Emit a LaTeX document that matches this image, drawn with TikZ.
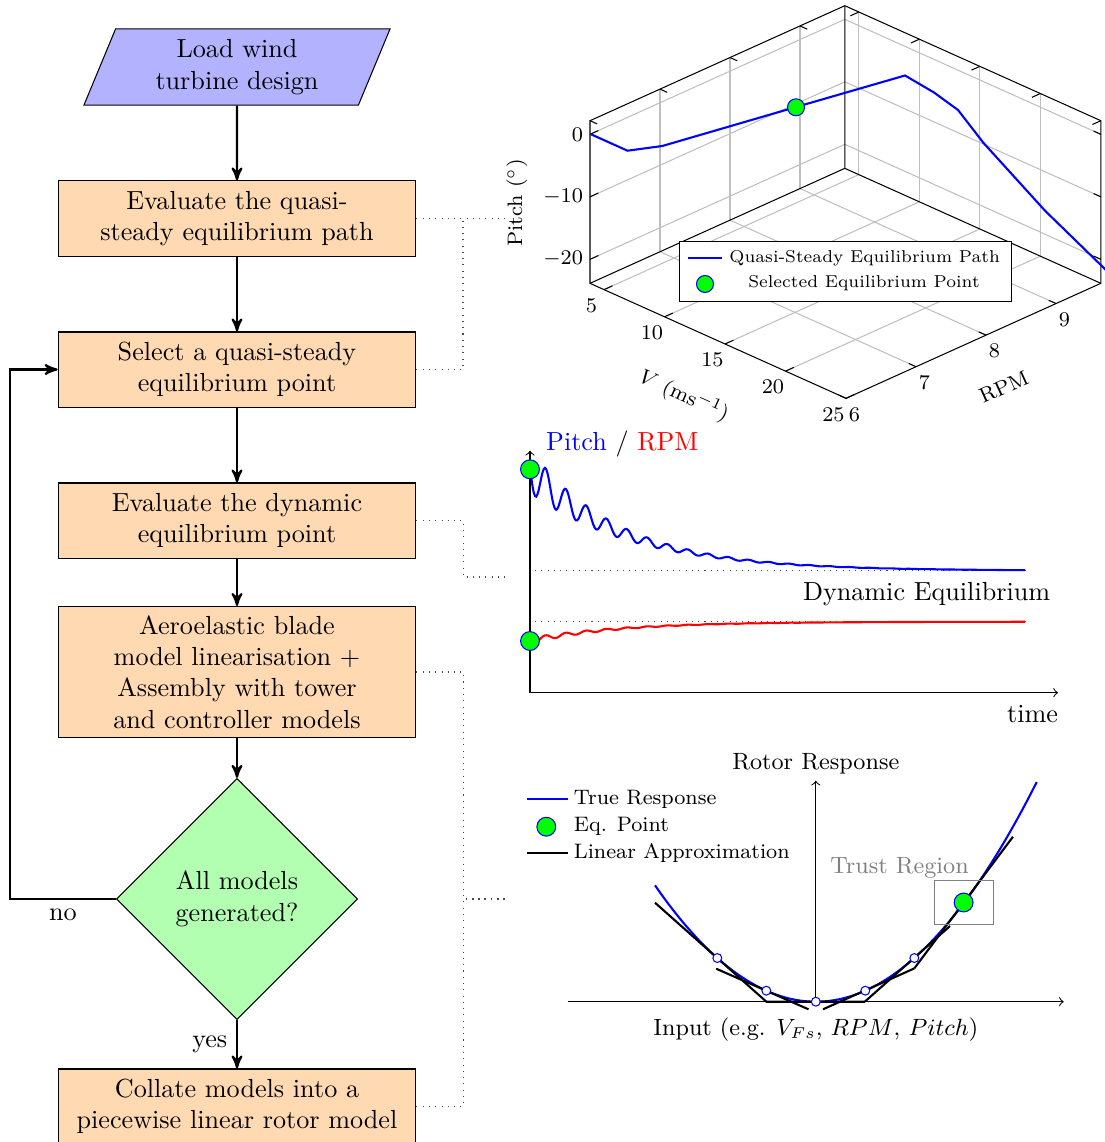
\documentclass[tikz,border=0pt]{standalone}
\usepackage{tikz}
\usetikzlibrary{shapes,arrows,positioning,calc}

\begin{document}
\begin{tikzpicture}[
    x=0.3824pt, y=-0.3824pt,
    process/.style={rectangle, draw, fill=orange!30, text width=132pt, align=center, inner sep=2.4pt, minimum height=28.7pt},
    io/.style={trapezium, trapezium left angle=70, trapezium right angle=110, trapezium stretches=true, draw, fill=blue!30, align=center, minimum width=117.4pt, minimum height=29.1pt, inner sep=1pt},
    decision/.style={diamond, draw, fill=green!30, align=center, minimum width=92.2pt, minimum height=92.2pt, inner sep=0pt, aspect=1},
    arrow/.style={->,>=stealth',thick},
    link/.style={dotted, black!70},
    eqpt/.style={circle, draw=blue, fill=green, inner sep=0pt, minimum size=7.2pt},
    linpt/.style={circle, draw=blue, fill=white, inner sep=0pt, minimum size=3.4pt},
    grid3d/.style={black!25, thin},
    legtext/.style={font=\scriptsize, inner sep=0pt, scale=0.94}
]
\useasboundingbox (0,0) rectangle (1105,1142);

% Flowchart
\node[io] (load) at (237,67) {Load wind\\turbine design};
\node[process] (evalqs) at (237,218.5) {Evaluate the quasi-\\steady equilibrium path};
\node[process] (select) at (237,369.5) {Select a quasi-steady\\equilibrium point};
\node[process] (evaldyn) at (237,520.5) {Evaluate the dynamic\\equilibrium point};
\node[process, minimum height=50.1pt] (linear) at (237,672) {Aeroelastic blade\\model linearisation +\\Assembly with tower\\and controller models};
\node[decision] (check) at (237,899) {All models\\generated?};
\node[process] (collate) at (237,1106.5) {Collate models into a\\piecewise linear rotor model};

% Arrows
\foreach \i/\j in {load/evalqs, evalqs/select, select/evaldyn, evaldyn/linear, linear/check} {
    \draw[arrow] (\i) -- (\j);
}
\draw[arrow] (check) -- node[left] {yes} (collate);
\coordinate (loopcorner) at (10,899);
\draw[arrow] (check.west) -- node[below] {no} (loopcorner) |- (select.west);

% Dotted links to the plots
\coordinate (qsjoin) at (463,218.5);
\coordinate (toqs) at (508,218.5);
\coordinate (todyn) at (508,577);
\coordinate (tolin) at (508,899);
\draw[link] (evalqs.east) -- (toqs);
\draw[link] (select.east) -| (qsjoin);
\draw[link] (evaldyn.east) -- ++(47,0) |- (todyn);
\draw[link] (linear.east) -- ++(47,0) |- (tolin);
\draw[link] (collate.east) -- ++(47,0) |- (tolin);

% Quasi-steady equilibrium path (3D view)
\begin{scope}[shift={(123.5,303)}, x={(4.627pt,-2.078pt)}, y={(26.77pt,12.08pt)}, z={(0pt,2.39pt)}]
  \foreach \r in {7,8,9} {
    \draw[grid3d] (3.84,\r,-23.84) -- (3.84,\r,2.18);
    \draw[grid3d] (3.84,\r,-23.84) -- (25,\r,-23.84);
  }
  \foreach \v in {5,10,15,20} {
    \draw[grid3d] (\v,9.64,-23.84) -- (\v,9.64,2.18);
    \draw[grid3d] (\v,6,-23.84) -- (\v,9.64,-23.84);
  }
  \foreach \p in {0,-10,-20} {
    \draw[grid3d] (3.84,6,\p) -- (3.84,9.64,\p) -- (25,9.64,\p);
  }
  % axis box
  \draw (3.84,6,2.18) -- (3.84,6,-23.84) -- (25,6,-23.84) -- (25,9.64,-23.84) -- (25,9.64,2.18) -- (3.84,9.64,2.18) -- cycle;
  \draw (3.84,9.64,2.18) -- (3.84,9.64,-23.84) -- (3.84,6,-23.84);
  \draw (3.84,9.64,-23.84) -- (25,9.64,-23.84);
  % ticks
  \foreach \p in {0,-10,-20} {
    \draw (3.84,6,\p) -- (3.84,6.12,\p);
    \draw (25,9.64,\p) -- (24.4,9.64,\p);
  }
  \foreach \v in {5,10,15,20,25} {
    \draw (\v,6,-23.84) -- (\v,6.12,-23.84);
    \draw (\v,9.64,2.18) -- (\v,9.52,2.18);
  }
  \foreach \r in {6,7,8,9} {
    \draw (25,\r,-23.84) -- (24.4,\r,-23.84);
    \draw (3.84,\r,2.18) -- (4.44,\r,2.18);
  }
  % tick labels
  \foreach \p [count=\k] in {0,-10,-20}
    \node[anchor=east, font=\footnotesize, inner sep=1pt, xshift=-1.5pt] (ptick\k) at (3.84,6,\p) {$\p$};
  \foreach \v in {5,10,15,20,25}
    \node[font=\footnotesize, inner sep=0pt, xshift=-4.8pt, yshift=-6.1pt] (vtick\v) at (\v,6,-23.84) {$\v$};
  \foreach \r in {6,7,8,9}
    \node[font=\footnotesize, inner sep=0pt, xshift=3.25pt, yshift=-6.1pt] (rtick\r) at (25,\r,-23.84) {$\r$};
\end{scope}
\node[font=\footnotesize, rotate=90] (pitchlab) at (517,203) {Pitch ($^\circ$)};
\node[font=\footnotesize, rotate=-24.2] (vlab) at (684,396) {$V$ ($\mathrm{ms}^{-1}$)};
\node[font=\footnotesize, rotate=24.3] (rpmlab) at (1004,387) {RPM};
\draw[blue, thick] (591,134.3) -- (627.5,150.7) -- (662.3,146) -- (795,107.3) -- (905,75.5) -- (934,92.5) -- (958,110) -- (983.3,142.7) -- (1045,210.7) -- (1108,272);
\node[eqpt, minimum size=6.5pt] (qspt) at (796,107.3) {};
% legend
\node[draw, fill=white, minimum width=126.8pt, minimum height=22.7pt, inner sep=0pt] (qslegend) at (845.75,271.35) {};
\draw[blue, thick] (687.7,258.3) -- (722,258.3);
\node[legtext, anchor=west] (qslegpath) at (729,258.3) {Quasi-Steady Equilibrium Path};
\node[eqpt, minimum size=6.5pt] (qslegpt) at (705,284) {};
\node[legtext] (qslegsel) at (864,283.3) {Selected Equilibrium Point};

% Dynamic equilibrium (time history)
\draw[->] (530,692.7) -- (530,450.7);
\draw[->] (530,692.7) -- (1058,692.7);
\draw[link] (535,570.7) -- (1025,570.7);
\draw[link] (535,621.7) -- (1025,621.7);
\draw[blue, thick] plot[domain=0:495, samples=400] ({530+\x}, {570.7-100*exp(-\x/95)+22*exp(-\x/70)*sin(17.734*(\x-0.4))});
\draw[red, thick] plot[domain=0:495, samples=300] ({530+\x}, {621.7+19*exp(-\x/90)+3*exp(-\x/70)*sin(17.734*(\x-0.4))});
\node[eqpt] (pitch0) at (530,469.3) {};
\node[eqpt] (rpm0) at (530,641) {};
\node[anchor=west] (dynlab) at (537,444) {\textcolor{blue}{Pitch} / \textcolor{red}{RPM}};
\node (dyneq) at (926.6,594) {Dynamic Equilibrium};
\node (timelab) at (1032.5,714) {time};

% Piecewise linear rotor model
\draw[->] (567.6,1001.7) -- (1063.7,1001.7);
\draw[->] (815.8,1001.7) -- (815.8,780.7);
\node[font=\small] (resplab) at (815.8,764) {Rotor Response};
\node[font=\small] (inplab) at (815.8,1030) {Input (e.g. $V_{Fs}$, $RPM$, $Pitch$)};
\draw[blue, thick] plot[domain=655:1036.7, samples=80] (\x, {1001.7-0.0045*(\x-815.8)*(\x-815.8)});
\draw[thick] (655,902.7) -- (766.4,1001.7) -- (865.2,1001.7);
\draw[thick] (716.2,968.7) -- (808.5,1009.3);
\draw[thick] (823,1009.3) -- (914.3,968.4);
\draw[thick] (865,1001.5) -- (950,926);
\draw[thick] (914.3,968.4) -- (1013,836.7);
\foreach \d [count=\k] in {-98.5,-49.5,0,49.5,98.5}
  \node[linpt] (linpt\k) at ({815.8+\d},{1001.7-0.0045*\d*\d}) {};
\node[draw=black!50, minimum width=22.4pt, minimum height=16.8pt, inner sep=0pt] (trust) at (964,902.3) {};
\node[eqpt] (eqrotor) at (963.6,902.5) {};
\node[black!50, font=\small] (trustlab) at (899.6,867.7) {Trust Region};
% legend
\draw[blue, thick] (527,799.3) -- (567.6,799.3);
\node[anchor=west, font=\footnotesize, inner sep=0pt] (legtrue) at (573.4,799.3) {True Response};
\node[eqpt] (legeq) at (546.3,826.7) {};
\node[anchor=west, font=\footnotesize, inner sep=0pt] (legeqlab) at (573.4,826.7) {Eq. Point};
\draw[thick] (527,853.3) -- (567.6,853.3);
\node[anchor=west, font=\footnotesize, inner sep=0pt] (leglin) at (573.4,853.3) {Linear Approximation};

\end{tikzpicture}
\end{document}
